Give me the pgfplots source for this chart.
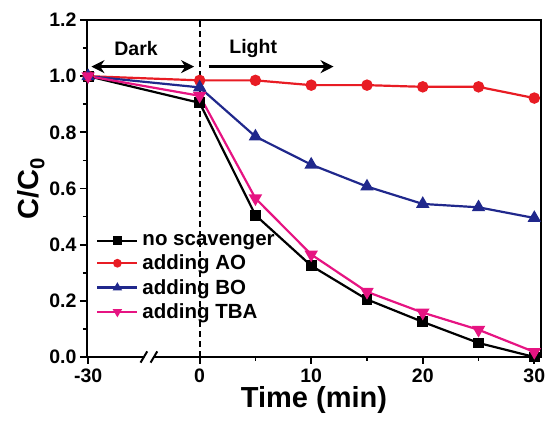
\documentclass[border=0pt]{standalone}
\usepackage{pgfplots}
\pgfplotsset{compat=1.18}
\usetikzlibrary{arrows.meta}
\usepackage{fontspec}
\setmainfont{Liberation Sans}
\definecolor{cred}{RGB}{232,28,36}
\definecolor{cblue}{RGB}{32,40,140}
\definecolor{cmag}{RGB}{230,20,130}
\begin{document}
\begin{tikzpicture}
\begin{axis}[name=ax,
  scale only axis, width=454pt, height=337pt,
  xmin=-10.1, xmax=30.6, ymin=0, ymax=1.2,
  xtick={-10,0,10,20,30}, xticklabels={-30,0,10,20,30},
  minor xtick={5,15,25},
  ytick={0,0.2,...,1.2}, minor ytick={0.1,0.3,...,1.1},
  yticklabel style={/pgf/number format/.cd,fixed,fixed zerofill,precision=1},
  /pgf/number format/assume math mode=true,
  tick label style={font=\bfseries\fontsize{19.5}{19.5}\selectfont},
  xticklabel style={yshift=-1pt},
  xlabel={\textbf{Time (min)}}, ylabel={\textbf{C/C\textsubscript{0}}},
  label style={font=\bfseries\fontsize{29}{29}\selectfont},
  xlabel style={yshift=3pt}, ylabel style={yshift=-2pt},
  tick align=outside, tick pos=left,
  major tick length=7pt, minor tick length=4pt,
  axis line style={line width=2pt}, every tick/.style={line width=1.8pt, black},
  legend style={draw=none, fill=none, at={(0.02,0.37)}, anchor=north west,
     font=\bfseries\fontsize{20.5}{20.5}\selectfont, row sep=4pt, inner sep=0pt,
     nodes={inner xsep=4pt}},
  legend cell align=left,
  legend image code/.code={\draw[#1, mark=none] (0pt,0pt) -- (40pt,0pt);
     \draw[#1, mark size=3.2pt, only marks] plot coordinates {(20pt,0pt)};},
  every axis plot/.append style={line width=2.2pt},
  clip=false,
]
\addplot[black, mark=square*, mark size=4.3pt] coordinates {
(-10,1.0) (0,0.905) (5,0.505) (10,0.325) (15,0.205) (20,0.125) (25,0.05) (30,0.0)};
\addlegendentry{no scavenger}
\addplot[cred, mark=*, mark size=4.6pt] coordinates {
(-10,1.0) (0,0.985) (5,0.985) (10,0.968) (15,0.968) (20,0.962) (25,0.962) (30,0.922)};
\addlegendentry{adding AO}
\addplot[cblue, mark=triangle*, mark size=5.6pt] coordinates {
(-10,1.0) (0,0.96) (5,0.785) (10,0.685) (15,0.607) (20,0.545) (25,0.533) (30,0.495)};
\addlegendentry{adding BO}
\addplot[cmag, mark=triangle*, mark size=5.6pt, mark options={rotate=180}] coordinates {
(-10,1.0) (0,0.93) (5,0.565) (10,0.365) (15,0.232) (20,0.158) (25,0.097) (30,0.018)};
\addlegendentry{adding TBA}
\draw[line width=2.2pt, dash pattern=on 6pt off 4pt] (axis cs:0,0) -- (axis cs:0,1.2);
\draw[{Stealth[length=13pt,width=13pt]}-{Stealth[length=13pt,width=13pt]}, line width=2.3pt] (axis cs:-9.7,1.034) -- (axis cs:-0.5,1.034);
\draw[-{Stealth[length=13pt,width=13pt]}, line width=2.3pt] (axis cs:0.8,1.034) -- (axis cs:12,1.034);
\node[font=\bfseries\fontsize{19.5}{19.5}\selectfont] at (axis cs:-5.7,1.097) {Dark};
\node[font=\bfseries\fontsize{19.5}{19.5}\selectfont] at (axis cs:4.8,1.097) {Light};
\fill[white] (axis cs:-4.95,-0.012) rectangle (axis cs:-4.15,0.012);
\draw[line width=2pt] (axis cs:-5.3,-0.02) -- (axis cs:-4.7,0.02);
\draw[line width=2pt] (axis cs:-4.4,-0.02) -- (axis cs:-3.8,0.02);
\end{axis}
\pgfresetboundingbox
\useasboundingbox ([shift={(-87pt,-67pt)}]ax.south west) rectangle ([shift={(5pt,20pt)}]ax.north east);
\end{tikzpicture}
\end{document}
